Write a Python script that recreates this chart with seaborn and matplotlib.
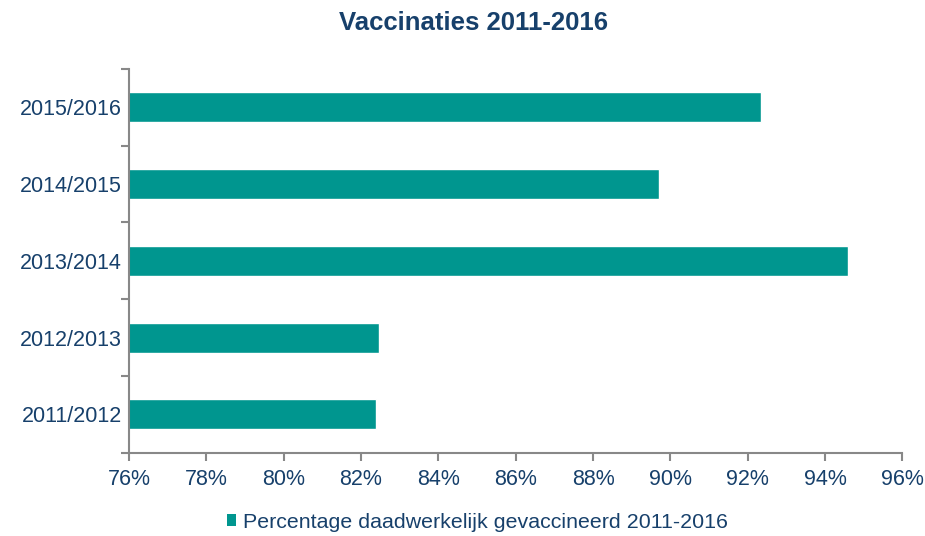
import matplotlib
matplotlib.use("Agg")
import matplotlib.pyplot as plt
import seaborn as sns
import pandas as pd
from matplotlib.patches import Patch
from matplotlib.ticker import FixedLocator, FuncFormatter

# Vaccinatiegraad per seizoen
seizoenen = ["2011/2012", "2012/2013", "2013/2014", "2014/2015", "2015/2016"]
percentages = [82.40, 82.46, 94.60, 89.71, 92.34]
x_ticks = [76, 78, 80, 82, 84, 86, 88, 90, 92, 94, 96]
legend_label = "Percentage daadwerkelijk gevaccineerd 2011-2016"

navy = "#17406B"
teal = "#00968F"
grey = "#888888"

sns.set_style("white")
plt.rcParams["font.family"] = ["Liberation Sans", "DejaVu Sans"]

df = pd.DataFrame({"seizoen": seizoenen, "pct": percentages})

fig = plt.figure(figsize=(9.25, 5.36), dpi=100)
ax = fig.add_axes([0.1395, 0.1554, 0.8360, 0.7159])

sns.barplot(data=df, x="pct", y="seizoen", order=seizoenen[::-1],
            color=teal, saturation=1, width=0.39, orient="h", ax=ax)

ax.set_xlim(76, 96)
ax.set_xticks(x_ticks)
ax.xaxis.set_major_formatter(FuncFormatter(lambda v, p: f"{v:.0f}%"))
ax.set_xlabel("")
ax.set_ylabel("")

# ticks tussen de categorieen
ax.yaxis.set_minor_locator(FixedLocator([i - 0.5 for i in range(len(seizoenen) + 1)]))
ax.tick_params(left=True, bottom=True, which="both")
ax.tick_params(axis="y", which="major", length=0, pad=5, labelsize=15.5, labelcolor=navy)
ax.tick_params(axis="y", which="minor", length=6, width=1.5, color=grey, direction="out")
ax.tick_params(axis="x", which="major", length=6, width=1.5, color=grey, direction="out",
               pad=6, labelsize=15.5, labelcolor=navy)
ax.set_ylim(len(seizoenen) - 0.5, -0.5)

for side in ["top", "right"]:
    ax.spines[side].set_visible(False)
for side in ["left", "bottom"]:
    ax.spines[side].set_color(grey)
    ax.spines[side].set_linewidth(1.5)

fig.text(0.512, 0.957, "Vaccinaties 2011-2016", ha="center", va="center",
         fontsize=18.5, fontweight="bold", color=navy)

fig.legend(handles=[Patch(facecolor=teal, edgecolor="none", label=legend_label)],
           loc="center", bbox_to_anchor=(0.516, 0.026), frameon=False,
           handlelength=0.45, handleheight=0.45, handletextpad=0.3,
           prop={"size": 15.4}, labelcolor=navy)

fig.savefig("out.png", dpi=100)
